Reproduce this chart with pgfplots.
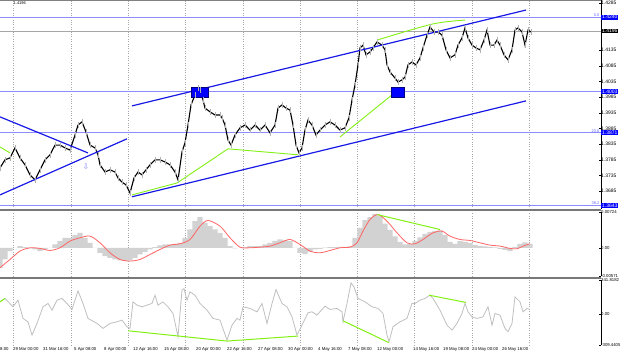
\documentclass[border=0pt]{standalone}
\usepackage{pgfplots}
\pgfplotsset{compat=1.18}
\usepackage{pgfplotstable}
\usepackage{fontspec}
\setmainfont{Liberation Sans}
\newfontfamily\symfont{DejaVu Sans}
\newcommand{\fs}{\fontsize{5.0}{6}\selectfont}
\newcommand{\fst}{\fontsize{4.3}{5}\selectfont}
\newcommand{\fss}{\fontsize{4}{5}\selectfont}
\definecolor{tblue}{RGB}{25,25,230}
\definecolor{hblue}{RGB}{140,140,255}
\definecolor{tgreen}{RGB}{130,240,20}
\definecolor{sigred}{RGB}{255,100,100}
\definecolor{sepgray}{RGB}{120,120,120}

\pgfplotstableread{
x y
0 1.3759
5 1.3785
10 1.3791
15 1.3823
20 1.3791
25 1.3769
30 1.3737
35 1.3721
40 1.3753
45 1.3785
50 1.3801
55 1.3832
60 1.3832
65 1.3823
70 1.3816
75 1.3864
78 1.3896
82 1.3906
86 1.3874
90 1.3832
95 1.3823
98 1.3801
100 1.3769
105 1.3746
110 1.3753
115 1.3746
118 1.3727
122 1.3714
126 1.3705
130 1.3679
134 1.3727
138 1.3746
142 1.3737
146 1.3753
150 1.3769
155 1.3785
160 1.3785
165 1.3778
170 1.3769
175 1.3746
178 1.3721
182 1.3810
185 1.3839
188 1.3896
191 1.3960
195 1.3992
198 1.4014
200 1.4008
203 1.3976
205 1.3950
210 1.3938
215 1.3928
220 1.3928
222 1.3919
225 1.3896
228 1.3848
231 1.3832
235 1.3864
240 1.3887
245 1.3896
250 1.3880
255 1.3896
260 1.3880
265 1.3896
270 1.3871
275 1.3896
278 1.3950
282 1.3960
286 1.3950
290 1.3944
293 1.3896
296 1.3832
299 1.3807
302 1.3823
305 1.3880
308 1.3912
312 1.3896
316 1.3864
320 1.3880
325 1.3896
330 1.3906
335 1.3896
340 1.3880
345 1.3887
349 1.3919
352 1.3976
355 1.4024
358 1.4088
360 1.4142
363 1.4151
366 1.4120
370 1.4129
373 1.4142
377 1.4161
382 1.4151
385 1.4136
387 1.4088
390 1.4065
395 1.4046
398 1.4033
402 1.4040
405 1.4049
408 1.4088
412 1.4097
416 1.4088
420 1.4110
423 1.4142
427 1.4183
430 1.4209
434 1.4193
438 1.4193
442 1.4183
446 1.4136
450 1.4110
455 1.4120
458 1.4151
462 1.4174
465 1.4206
468 1.4174
472 1.4151
476 1.4142
480 1.4136
484 1.4167
487 1.4199
490 1.4151
494 1.4151
497 1.4167
500 1.4151
504 1.4120
508 1.4104
512 1.4136
515 1.4199
518 1.4206
522 1.4193
525 1.4151
528 1.4199
531 1.4193
}\price

\pgfplotstableread{
x y
0 -0.00404
5 -0.00236
10 -0.00067
15 0
20 0.00034
25 0.00013
30 -0.00013
35 -0.00034
40 -0.00067
45 -0.00034
50 0
55 0.00067
60 0.00135
65 0.00202
70 0.00202
75 0.00256
80 0.00303
85 0.00202
90 0.00101
95 0
100 -0.00101
105 -0.00168
110 -0.00202
115 -0.00236
120 -0.00256
125 -0.00269
130 -0.00256
135 -0.00202
140 -0.00135
145 -0.00081
150 -0.00034
155 0.00013
160 0.00047
165 0.00067
170 0.00067
175 0.00081
180 0.00101
185 0.00202
190 0.00370
195 0.00538
200 0.00619
205 0.00505
210 0.00437
215 0.00370
220 0.00303
225 0.00202
230 0.00034
235 -0.00013
240 0
245 0.00013
250 0.00034
255 0.00034
260 0.00034
265 0.00070
270 0.00101
275 0.00140
280 0.00168
285 0.00150
290 0.00135
295 0
300 -0.00101
305 -0.00130
310 -0.00080
315 -0.00034
320 -0.00020
325 0.00005
330 0.00013
335 0.00013
340 0.00018
345 0.00020
350 0.00030
355 0.00200
360 0.00404
365 0.00560
370 0.00620
375 0.00680
380 0.00640
385 0.00490
390 0.00360
395 0.00230
400 0.00120
405 0.00067
410 0.00080
415 0.00140
420 0.00210
425 0.00280
430 0.00320
435 0.00340
440 0.00350
445 0.00260
450 0.00120
455 0.00080
460 0.00135
465 0.00121
470 0.00100
475 0.00060
480 0.00040
485 0.00030
490 0.00020
495 0.00010
500 -0.00020
505 -0.00040
510 -0.00067
515 0.00020
520 0.00080
525 0.00110
530 0.00081
}\hist

\pgfplotstableread{
x y
0 -0.00404
10 -0.00236
20 -0.00067
30 0
40 -0.00013
50 -0.00054
60 0
70 0.00135
80 0.00202
90 0.00236
100 0.00101
110 -0.00101
120 -0.00236
130 -0.00269
140 -0.00236
150 -0.00135
160 -0.00034
170 0.00054
180 0.00081
190 0.00168
200 0.00437
208 0.00552
220 0.00437
230 0.00202
240 0.00013
250 0
260 0.00013
270 0.00034
280 0.00101
290 0.00168
300 0.00067
310 -0.00067
320 -0.00101
330 -0.00054
340 0
350 0.00013
357 0.00101
363 0.00337
370 0.00572
378 0.00673
387 0.00538
397 0.00303
407 0.00101
415 0.00081
423 0.00168
433 0.00303
442 0.00337
450 0.00236
460 0.00168
470 0.00148
480 0.00101
490 0.00054
500 0.00034
510 -0.00013
517 -0.00020
523 0.00034
530 0.00081
}\signal

\pgfplotstableread{
x y
0 123
5 157
13 73
18 140
23 -43
28 -77
32 -210
37 -93
43 73
48 107
52 40
57 140
62 157
67 107
72 47
75 140
78 233
83 107
88 -43
97 -93
103 -143
110 -93
117 -77
122 -60
127 -127
130 -143
133 123
137 90
142 73
147 90
152 107
155 190
158 90
163 123
168 73
173 7
178 -226
182 240
184 256
187 140
190 223
195 190
200 107
207 40
213 -43
220 -60
227 -260
232 -110
237 -43
240 -60
243 73
250 57
257 23
262 107
267 -93
272 107
276 246
282 107
287 73
292 -27
297 -210
302 -110
308 13
312 23
317 -10
325 80
330 47
337 57
342 23
343 -77
347 107
351 313
354 273
358 157
365 123
372 73
378 57
383 7
387 -210
389 -276
393 -127
400 -77
407 -43
412 107
415 107
420 140
425 157
430 190
433 157
440 40
447 -110
452 -160
457 -93
462 7
465 107
468 23
472 -27
477 -43
483 -27
488 73
492 -110
495 7
500 -10
505 -143
508 -176
512 -93
515 173
520 123
523 23
527 57
530 47
}\cci

\pgfplotsset{
  panel/.style={
    scale only axis, width=601bp, xmin=0, xmax=601,
    anchor=north west, clip=false,
    axis x line*=bottom, axis y line*=right,
    x axis line style={draw=none},
    y axis line style={black, line width=0.4bp},
    xtick={13,71,128,185,243,300,357,414,472,529},
    xticklabels={},
    xtick style={draw=none},
    xmajorgrids,
    major grid style={dotted, gray!70, line width=0.35bp},
    ytick style={black, line width=0.4bp},
    major tick length=2bp,
    yticklabel style={font=\fs, anchor=west, xshift=-1bp, inner xsep=1bp},
    scaled y ticks=false,
  },
}

\begin{document}
\begin{tikzpicture}
% ---------------- main price panel ----------------
\begin{axis}[panel, at={(0,0)}, height=209bp,
  ymin=1.3628, ymax=1.4295,
  ytick={1.4285,1.4135,1.4085,1.4035,1.3985,1.3935,1.3885,1.3835,1.3785,1.3735,1.3685},
  yticklabels={1.4285,1.4135,1.4085,1.4035,1.3985,1.3935,1.3885,1.3835,1.3785,1.3735,1.3685},
]
% horizontal levels
\addplot[hblue, line width=1.1bp] coordinates {(0,1.4240) (601,1.4240)};
\addplot[hblue, line width=1.1bp] coordinates {(0,1.4003) (601,1.4003)};
\addplot[hblue, line width=1.1bp] coordinates {(0,1.3871) (601,1.3871)};
\addplot[hblue, line width=1.1bp] coordinates {(0,1.3639) (601,1.3639)};
\addplot[gray!70, line width=0.5bp] coordinates {(0,1.4196) (601,1.4196)};
% top border
\addplot[gray, line width=0.6bp] coordinates {(0,1.4295) (601,1.4295)};
% candles (wicks + path)
\addplot[only marks, mark=|, mark size=3bp, mark options={draw=gray!60, line width=0.9bp}] table[x=x,y=y] {\price};
\addplot[black, line width=1.1bp, no markers] table[x=x,y=y] {\price};
% trend lines
\addplot[tblue, line width=1.2bp] coordinates {(0,1.3922) (88,1.3807)};
\addplot[tblue, line width=1.2bp] coordinates {(0,1.3673) (127,1.3852)};
\addplot[tblue, line width=1.2bp] coordinates {(132,1.3957) (526,1.4263)};
\addplot[tblue, line width=1.2bp] coordinates {(132,1.3667) (526,1.3973)};
% green divergence lines
\addplot[tgreen, line width=0.9bp] coordinates {(0,1.3826) (10,1.3807)};
\addplot[tgreen, line width=0.9bp] coordinates {(132,1.3673) (177,1.3711) (228,1.3820)};
\addplot[tgreen, line width=0.9bp] coordinates {(228,1.3820) (298,1.3801)};
\addplot[tgreen, line width=0.9bp] coordinates {(340,1.3858) (397,1.4005)};
\addplot[tgreen, line width=0.9bp, smooth] coordinates {(377,1.4167) (432,1.4218) (465,1.4231)};
% blue squares
\addplot[fill=blue, draw=blue!50!black, line width=0.4bp] coordinates {(191,1.3986) (208,1.3986) (208,1.4017) (191,1.4017)} --cycle;
\addplot[fill=blue, draw=blue!50!black, line width=0.4bp] coordinates {(391,1.3986) (404,1.3986) (404,1.4017) (391,1.4017)} --cycle;
% arrow
\addplot[only marks, mark=text, text mark={\textcolor{hblue}{\symfont\fontsize{8}{8}\selectfont ⇩}}] coordinates {(86,1.3762)};
% price boxes
\node[anchor=west, fill=blue, text=white, font=\fs, inner xsep=1bp, inner ysep=0.6bp] at (axis cs:601,1.4240) {1.4240};
\node[anchor=west, fill=black, text=white, font=\fs, inner xsep=1bp, inner ysep=0.6bp] at (axis cs:601,1.4196) {1.4196};
\node[anchor=west, fill=blue, text=white, font=\fs, inner xsep=1bp, inner ysep=0.6bp] at (axis cs:601,1.4003) {1.4003};
\node[anchor=west, fill=blue, text=white, font=\fs, inner xsep=1bp, inner ysep=0.6bp] at (axis cs:601,1.3871) {1.3871};
\node[anchor=west, fill=blue, text=white, font=\fs, inner xsep=1bp, inner ysep=0.6bp] at (axis cs:601,1.3639) {1.3643};
% fibo labels
\node[anchor=south east, font=\fss, text=hblue!70!blue, inner sep=0.5bp] at (axis cs:600,1.4240) {0.0};
\node[anchor=south east, font=\fss, text=hblue!70!blue, inner sep=0.5bp] at (axis cs:600,1.3871) {23.6};
\node[anchor=south east, font=\fss, text=hblue!70!blue, inner sep=0.5bp] at (axis cs:600,1.3639) {38.2};
\node[anchor=west, font=\fss, inner sep=0.5bp] at (axis cs:13,1.4284) {1.4196};
\end{axis}
% ---------------- MACD panel ----------------
\begin{axis}[panel, at={(0,-212bp)}, height=64bp,
  ymin=-0.00571, ymax=0.00724,
  ytick={0.00724,0,-0.00571},
  yticklabels={0.00724,0.00,-0.00571},
  yticklabel style={font=\fst},
]
\addplot[ybar, bar width=5.1bp, bar shift=0pt, fill=gray!35, draw=none] table[x=x,y=y] {\hist};
\addplot[sigred, line width=0.8bp, smooth] table[x=x,y=y] {\signal};
\addplot[tgreen, line width=1.0bp] coordinates {(377,0.00673) (440,0.00370)};
\end{axis}
% ---------------- CCI panel ----------------
\begin{axis}[panel, at={(0,-280bp)}, height=65bp,
  ymin=-309.4405, ymax=341.8182,
  ytick={341.8182,0,-309.4405},
  yticklabels={341.8182,0.00,-309.4405},
  yticklabel style={font=\fst},
  extra x ticks={0,13,43,74,104,133,164,196,227,258,288,318,348,377,413,443,472,502},
  extra x tick labels={8:00,29 Mar 00:00,31 Mar 16:00,5 Apr 08:00,8 Apr 00:00,12 Apr 16:00,15 Apr 08:00,20 Apr 00:00,22 Apr 16:00,27 Apr 08:00,30 Apr 00:00,4 May 16:00,7 May 08:00,12 May 00:00,14 May 16:00,19 May 08:00,24 May 00:00,26 May 16:00},
  extra x tick style={grid=none, major tick length=0pt,
    xticklabel style={font=\fst, anchor=north west, inner xsep=0pt, yshift=1bp}},
]
\addplot[gray!50, line width=0.8bp] table[x=x,y=y] {\cci};
\addplot[tgreen, line width=1.0bp] coordinates {(0,123) (5,157)};
\addplot[tgreen, line width=1.0bp] coordinates {(128,-167) (227,-270) (298,-220)};
\addplot[tgreen, line width=1.0bp] coordinates {(343,-67) (389,-286)};
\addplot[tgreen, line width=1.0bp] coordinates {(429,190) (466,117)};
\end{axis}
% separators
\draw[sepgray, line width=1.6bp] (0,-210bp) -- (601bp,-210bp);
\draw[sepgray, line width=1.6bp] (0,-278bp) -- (601bp,-278bp);
\pgfresetboundingbox
\path[use as bounding box] (0,0) rectangle (620bp,-357bp);
\end{tikzpicture}
\end{document}
